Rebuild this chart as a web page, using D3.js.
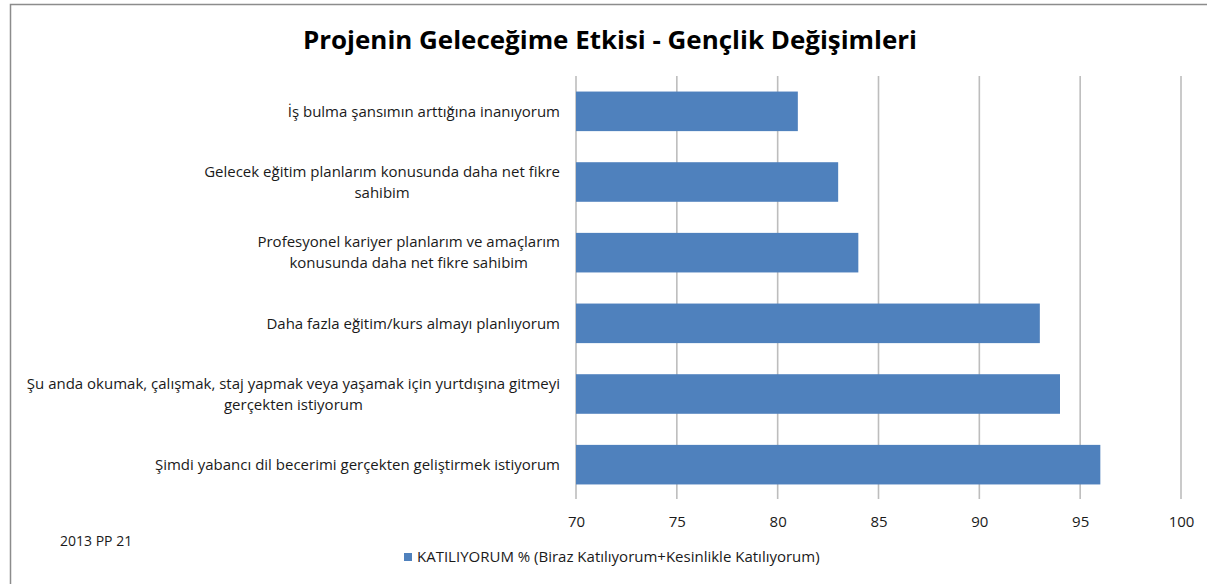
<!DOCTYPE html>
<html lang="tr">
<head>
<meta charset="utf-8">
<style>
  body { margin: 0; background: #fff; }
  svg { display: block; }
  text { font-family: "Open Sans", "DejaVu Sans", sans-serif; fill: #1a1a1a; }
</style>
</head>
<body>
<div id="chart"></div>
<script src="https://d3js.org/d3.v7.min.js"></script>
<script>
// data
var categories = [
  ["İş bulma şansımın arttığına inanıyorum"],
  ["Gelecek eğitim planlarım konusunda daha net fikre", "sahibim"],
  ["Profesyonel kariyer planlarım ve amaçlarım", "konusunda daha net fikre sahibim"],
  ["Daha fazla eğitim/kurs almayı planlıyorum"],
  ["Şu anda okumak, çalışmak, staj yapmak veya yaşamak için yurtdışına gitmeyi", "gerçekten istiyorum"],
  ["Şimdi yabancı dil becerimi gerçekten geliştirmek istiyorum"]
];
var values = [81, 83, 84, 93, 94, 96];
var xTicks = [70, 75, 80, 85, 90, 95, 100];
var title = "Projenin Geleceğime Etkisi - Gençlik Değişimleri";
var seriesName = "KATILIYORUM % (Biraz Katılıyorum+Kesinlikle Katılıyorum)";
var note = "2013 PP 21";

var W = 1207, H = 584;
var plotLeft = 576, plotRight = 1181, plotTop = 76, plotBottom = 500;
var barColor = "#4F81BD";

var svg = d3.select("#chart").append("svg")
    .attr("width", W)
    .attr("height", H);

// frame (only top and left edges show)
svg.append("path")
    .attr("d", "M10.5," + H + "V4.5H" + W)
    .attr("fill", "none")
    .attr("stroke", "#8c8c8c")
    .attr("stroke-width", 1.5);

svg.append("text")
    .attr("x", 610)
    .attr("y", 49)
    .attr("text-anchor", "middle")
    .attr("font-size", "25px")
    .attr("font-weight", "bold")
    .attr("textLength", 614)
    .attr("lengthAdjust", "spacingAndGlyphs")
    .style("fill", "#000")
    .text(title);

var x = d3.scaleLinear().domain([70, 100]).range([plotLeft, plotRight]);
var y = d3.scaleBand()
    .domain(d3.range(categories.length))
    .range([plotTop, plotBottom])
    .paddingInner(0.44)
    .paddingOuter(0.22);

// gridlines
svg.append("g")
    .selectAll("line")
    .data(xTicks)
    .join("line")
    .attr("x1", function (d) { return x(d); })
    .attr("x2", function (d) { return x(d); })
    .attr("y1", plotTop)
    .attr("y2", plotBottom - 1)
    .attr("stroke", "#bdbdbd")
    .attr("stroke-width", 1.6);

svg.append("g")
    .selectAll("rect")
    .data(values)
    .join("rect")
    .attr("x", x(70))
    .attr("y", function (d, i) { return y(i); })
    .attr("width", function (d) { return x(d) - x(70); })
    .attr("height", y.bandwidth())
    .attr("fill", barColor);

// x axis labels
var xAxis = d3.axisBottom(x).tickValues(xTicks).tickSize(0).tickPadding(16);
var gx = svg.append("g")
    .attr("transform", "translate(0," + plotBottom + ")")
    .call(xAxis);
gx.select(".domain").remove();
gx.selectAll("text")
    .attr("font-size", "15px")
    .attr("font-family", null)
    .style("fill", "#1a1a1a");

// category labels: block right-aligned, lines centered in the block
var labelRight = 560, lineH = 21;
var lab = svg.append("g").attr("font-size", "15px");
categories.forEach(function (lines, i) {
  var cy = y(i) + y.bandwidth() / 2;
  var g = lab.append("g");
  var ts = lines.map(function (s, k) {
    return g.append("text")
        .attr("text-anchor", "middle")
        .attr("dy", "0.35em")
        .attr("y", cy + (k - (lines.length - 1) / 2) * lineH)
        .text(s);
  });
  var wmax = d3.max(ts, function (t) { return t.node().getComputedTextLength(); });
  ts.forEach(function (t) { t.attr("x", labelRight - wmax / 2); });
});

svg.append("text")
    .attr("x", 60)
    .attr("y", 546)
    .attr("font-size", "14px")
    .text(note);

// legend
var leg = svg.append("g").attr("transform", "translate(404,553)");
leg.append("rect")
    .attr("width", 8)
    .attr("height", 8)
    .attr("fill", barColor);
leg.append("text")
    .attr("x", 13)
    .attr("y", 4)
    .attr("dy", "0.35em")
    .attr("font-size", "15px")
    .text(seriesName);
</script>
</body>
</html>
